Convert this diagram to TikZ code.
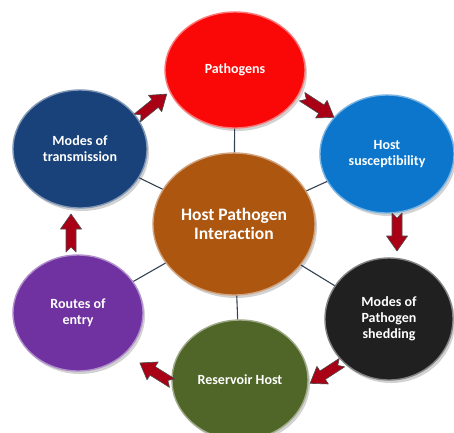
\documentclass[tikz,border=0pt]{standalone}
\usepackage{fontspec}
\setmainfont[Ligatures=NoCommon]{Carlito}
\usetikzlibrary{shapes.geometric,shadows,calc}
\definecolor{cpath}{RGB}{250,8,8}
\definecolor{ctrans}{RGB}{26,66,122}
\definecolor{csusc}{RGB}{12,118,204}
\definecolor{chub}{RGB}{172,86,16}
\definecolor{cshed}{RGB}{32,32,32}
\definecolor{cres}{RGB}{80,102,40}
\definecolor{croute}{RGB}{112,50,160}
\definecolor{carrow}{RGB}{170,0,22}
\definecolor{cline}{RGB}{52,66,84}
\tikzset{
  bubble/.style={ellipse, inner sep=0pt, fill=#1, draw=#1!55!white, line width=1.4pt,
    text=white, align=center, font=\bfseries\fontsize{14}{16}\selectfont,
    drop shadow={opacity=0.35, shadow xshift=2pt, shadow yshift=-3pt}},
  link/.style={draw=cline, line width=1.1pt},
  blockarrow/.style={fill=carrow, draw=black!70, line width=0.6pt, line join=round}
}
\newcommand{\barrow}[2]{%
  \path[blockarrow, shift={(#1)}, rotate=#2]
    (-19pt,5pt) -- (4pt,5pt) -- (4pt,10.5pt) -- (19pt,0pt) -- (4pt,-10.5pt)
    -- (4pt,-5pt) -- (-19pt,-5pt) -- (-14pt,0pt) -- cycle;}
\begin{document}
\begin{tikzpicture}[x=1pt,y=-1pt]
\clip (0,0) rectangle (454,432);
\fill[white] (0,0) rectangle (454,432);
\node[bubble=chub, minimum width=162pt, minimum height=142pt,
  font=\bfseries\fontsize{17.5}{19}\selectfont] (hub) at (234,224) {Host Pathogen\\Interaction};
\node[bubble=cpath, minimum width=140pt, minimum height=116pt] (path) at (235,70) {Pathogens};
\node[bubble=ctrans, minimum width=134pt, minimum height=118pt] (trans) at (80,149) {Modes of\\transmission};
\node[bubble=csusc, minimum width=134pt, minimum height=118pt] (susc) at (387,154) {Host\\susceptibility};
\node[bubble=cshed, minimum width=128pt, minimum height=122pt] (shed) at (389,319) {Modes of\\Pathogen\\shedding};
\node[bubble=cres, minimum width=136pt, minimum height=120pt] (res) at (240,380) {Reservoir Host};
\node[bubble=croute, minimum width=130pt, minimum height=116pt] (route) at (78,313) {Routes of\\entry};
\draw[link] (hub) -- (path);
\draw[link] (hub) -- (trans);
\draw[link] (hub) -- (susc);
\draw[link] (hub) -- (shed);
\draw[link] (hub) -- (res);
\draw[link] (hub) -- (route);
% block arrows along the cycle
\coordinate (a1) at (152,106);
\coordinate (a2) at (318,107);
\coordinate (a3) at (397,232);
\coordinate (a4) at (326,373);
\coordinate (a5) at (156,373);
\coordinate (a6) at (71,233);
\barrow{a1}{39}
\barrow{a2}{-33}
\barrow{a3}{-90}
\barrow{a4}{213}
\barrow{a5}{148}
\barrow{a6}{90}
\end{tikzpicture}
\end{document}
